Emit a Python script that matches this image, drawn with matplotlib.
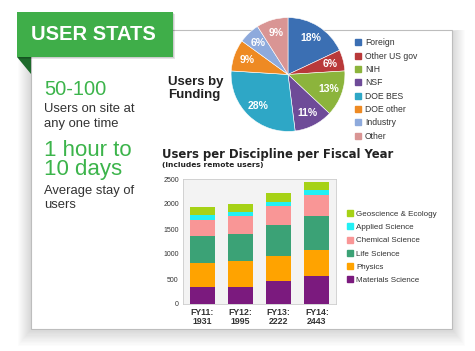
import matplotlib.pyplot as plt
from matplotlib.patches import Rectangle, Polygon
from matplotlib.lines import Line2D

plt.rcParams['font.family'] = ['Liberation Sans', 'DejaVu Sans']

# pie data
fund_labels = ["Foreign", "Other US gov", "NIH", "NSF", "DOE BES", "DOE other", "Industry", "Other"]
fund_pct = [18, 6, 13, 11, 28, 9, 6, 9]
fund_colors = ["#3b6fb3", "#b9393a", "#8cb43c", "#6e4b98", "#2ea7c6", "#ee8a23", "#8eaadc", "#d99594"]

# bar data
years = ["FY11:\n1931", "FY12:\n1995", "FY13:\n2222", "FY14:\n2443"]
disciplines = ["Materials Science", "Physics", "Life Science", "Chemical Science",
               "Applied Science", "Geoscience & Ecology"]
materials = [340, 340, 455, 555]
physics = [490, 515, 510, 525]
life = [535, 545, 620, 680]
chemical = [325, 355, 375, 425]
applied = [85, 95, 85, 95]
geo = [156, 145, 177, 163]
disc_colors = ["#7b1a7e", "#ffa300", "#3ba276", "#f99696", "#22f0f4", "#a6d216"]

W, H = 475, 351
fig = plt.figure(figsize=(W / 100, H / 100), dpi=100)

# background layer in pixel coords
bg = fig.add_axes([0, 0, 1, 1])
bg.set_xlim(0, W)
bg.set_ylim(H, 0)
bg.axis("off")

# soft card shadow + card
for d in range(1, 14):
    bg.add_patch(Rectangle((31 - d, 31 - d * 0.1), 421 + 2 * d, 298 + 1.4 * d,
                           facecolor="black", alpha=0.012, edgecolor="none"))
bg.add_patch(Rectangle((31, 30), 421, 299, facecolor="white", edgecolor="#bdbdbd", lw=0.8))

# banner
bg.add_patch(Polygon([(17, 57), (31, 57), (31, 74)], closed=True, facecolor="#1d6a2b", edgecolor="none"))
for d in range(1, 5):
    bg.add_patch(Rectangle((17 + d * 0.5, 12 + d * 0.5), 156, 45, facecolor="black",
                           alpha=0.05, edgecolor="none"))
bg.add_patch(Rectangle((17, 12), 156, 45, facecolor="#3fae49", edgecolor="none"))
bg.text(93, 35, "USER STATS", color="white", fontsize=14.5, fontweight="bold",
        ha="center", va="center")

# left column (multi-line texts: y is the last line's baseline)
green = "#3cb44b"
txt = "#333333"
bg.text(44, 95, "50-100", color=green, fontsize=14.5, va="baseline")
bg.text(44, 126.5, "Users on site at\nany one time", color=txt, fontsize=9.4,
        va="baseline", linespacing=1.25)
bg.text(44, 175, "1 hour to\n10 days", color=green, fontsize=16, va="baseline",
        linespacing=0.85)
bg.text(44, 208, "Average stay of\nusers", color=txt, fontsize=9.4, va="baseline",
        linespacing=1.2)

bg.text(168, 98, "Users by\nFunding", color="#222222", fontsize=9.5, fontweight="bold",
        va="baseline", linespacing=1.1)

bg.text(162, 158, "Users per Discipline per Fiscal Year", color="#222222", fontsize=8.4,
        fontweight="bold", va="baseline", family="DejaVu Sans")
bg.text(162, 167, "(includes remote users)", color="#222222", fontsize=5.4,
        fontweight="bold", va="baseline", family="DejaVu Sans")

# pie
cx, cy, r = 288, 74.5, 57.5
pax = fig.add_axes([(cx - r) / W, 1 - (cy + r) / H, 2 * r / W, 2 * r / H])
wedges, _, autotexts = pax.pie(fund_pct, colors=fund_colors, startangle=90, counterclock=False,
                               autopct="%d%%", pctdistance=0.76,
                               wedgeprops=dict(linewidth=0.4, edgecolor="white"))
for t in autotexts:
    t.set_color("white")
    t.set_fontsize(7.5)
    t.set_fontweight("bold")
pax.set_xlim(-1.01, 1.01)
pax.set_ylim(-1.01, 1.01)
pax.set_aspect("equal")

handles = [Line2D([], [], marker="s", color=c, linestyle="none", markersize=4) for c in fund_colors]
fig.legend(handles, fund_labels, loc="upper left", bbox_to_anchor=(352 / W, 1 - 35 / H),
           frameon=False, fontsize=6.2, labelspacing=0.5, handlelength=0.6, handletextpad=0.5,
           labelcolor="#333333", borderaxespad=0)

# stacked bars
bax = fig.add_axes([183 / W, 1 - 304 / H, 153 / W, 125 / H])
bax.set_facecolor("#f3f3f3")
series = [materials, physics, life, chemical, applied, geo]
bottom = [0] * len(years)
for vals, col, name in zip(series, disc_colors, disciplines):
    bax.bar(range(len(years)), vals, width=0.65, bottom=bottom, color=col, label=name)
    bottom = [a + v for a, v in zip(bottom, vals)]
bax.set_xlim(-0.5, 3.5)
bax.set_ylim(0, 2500)
bax.set_yticks(range(0, 2501, 500))
bax.set_xticks(range(len(years)))
bax.set_xticklabels(years, fontsize=6.3, fontweight="bold", color="#333333", linespacing=1.0)
bax.tick_params(axis="y", labelsize=5, length=0, pad=3, labelcolor="#333333")
bax.tick_params(axis="x", length=0, pad=3)
for s in bax.spines.values():
    s.set_color("#cccccc")
    s.set_linewidth(0.6)

handles2 = [Line2D([], [], marker="s", color=c, linestyle="none", markersize=4)
            for c in disc_colors[::-1]]
fig.legend(handles2, disciplines[::-1], loc="upper left", bbox_to_anchor=(344 / W, 1 - 207 / H),
           frameon=False, fontsize=5.8, labelspacing=0.7, handlelength=0.6, handletextpad=0.5,
           labelcolor="#333333", borderaxespad=0)

fig.savefig("out.png", dpi=100)
